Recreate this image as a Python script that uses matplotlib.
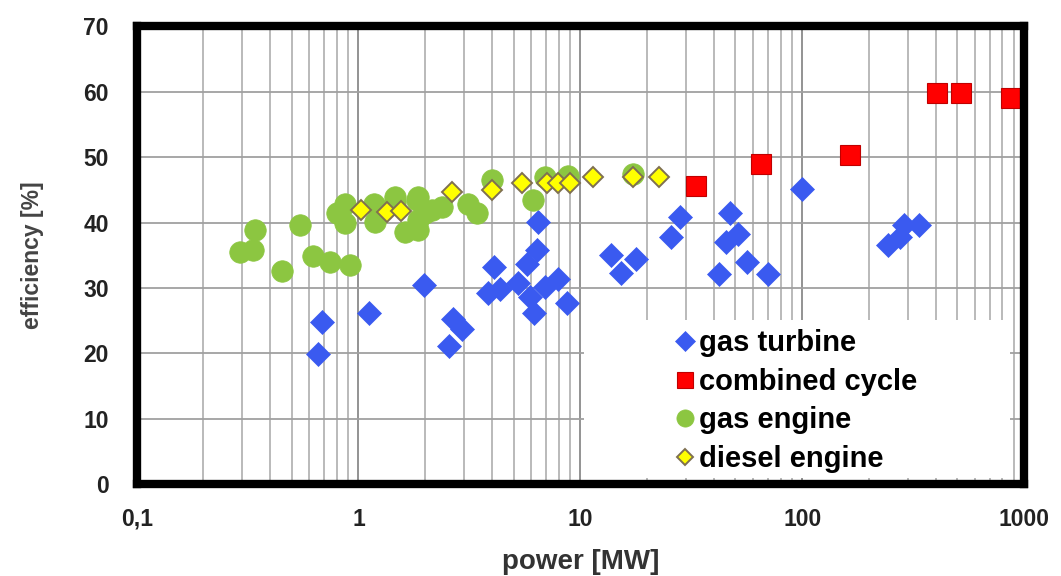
import numpy as np
import matplotlib.pyplot as plt
from matplotlib.patches import Rectangle
from matplotlib.ticker import FixedLocator, LogLocator, NullFormatter

plt.rcParams['font.family'] = ['Liberation Sans', 'DejaVu Sans']

# power [MW] / efficiency [%] per technology
gt_power = [0.656, 0.684, 1.11, 1.98, 2.57, 2.68, 2.94, 3.85, 4.08, 4.35, 5.26, 5.73,
            5.93, 6.21, 6.36, 6.47, 6.93, 7.96, 8.68, 13.8, 15.2, 17.9, 25.6, 28.1,
            42.3, 45.3, 47.5, 51.5, 56.5, 70.5, 100, 244, 275, 288, 337]
gt_eff = [19.9, 24.8, 26.2, 30.5, 21.1, 25.2, 23.7, 29.2, 33.2, 29.9, 30.7, 33.7,
          28.6, 26.1, 35.8, 40.1, 30.2, 31.4, 27.7, 35.1, 32.3, 34.4, 37.8, 40.9,
          32.2, 37.0, 41.5, 38.3, 34.0, 32.2, 45.1, 36.5, 37.8, 39.7, 39.6]

cc_power = [33.4, 65, 165, 405, 522, 871]
cc_eff = [45.6, 48.9, 50.3, 59.9, 59.8, 59.0]

ge_power = [0.293, 0.333, 0.342, 0.452, 0.545, 0.621, 0.745, 0.916, 0.799, 0.871,
            0.871, 1.17, 1.19, 1.46, 1.62, 1.83, 1.86, 2.0, 1.46, 1.86, 1.86, 2.14,
            2.38, 3.13, 3.41, 3.98, 6.14, 6.93, 8.83, 17.3]
ge_eff = [35.5, 35.8, 38.8, 32.6, 39.6, 34.9, 34.0, 33.5, 41.4, 42.9,
          39.9, 42.9, 40.1, 43.2, 38.6, 43.4, 38.8, 41.4, 43.9, 43.9, 40.4, 41.9,
          42.4, 42.9, 41.4, 46.5, 43.4, 47.0, 47.2, 47.5]

de_power = [1.03, 1.34, 1.56, 2.63, 3.98, 5.44, 7.05, 7.96, 8.98, 11.4, 17.3, 22.6]
de_eff = [41.9, 41.6, 41.7, 44.7, 45.0, 46.0, 46.0, 46.0, 46.0, 46.9, 47.0, 47.0]

x_ticks = [0.1, 1, 10, 100, 1000]
x_ticklabels = ['0,1', '1', '10', '100', '1000']
y_ticks = [0, 10, 20, 30, 40, 50, 60, 70]

fig = plt.figure(figsize=(10.61, 5.76), dpi=100)
ax = fig.add_axes([0.1288, 0.1597, 0.8363, 0.7943])

ax.plot(gt_power, gt_eff, 'D', ms=12.5, color='#3a5af0', mec='#3a5af0', mew=0.5,
        ls='none', label='gas turbine', zorder=3)
ax.plot(cc_power, cc_eff, 's', ms=14, color='#ff0000', mec='#c00000', mew=0.8,
        ls='none', label='combined cycle', zorder=3)
ax.plot(ge_power, ge_eff, 'o', ms=15.5, color='#8cc641', mec='#8cc641', mew=0.5,
        ls='none', label='gas engine', zorder=3)
ax.plot(de_power, de_eff, 'D', ms=10, color='#ffff00', mec='#7f7050', mew=1.4,
        ls='none', label='diesel engine', zorder=4)

ax.set_xscale('log')
ax.set_xlim(0.1, 1000)
ax.set_ylim(0, 70)
ax.xaxis.set_major_locator(FixedLocator(x_ticks))
ax.set_xticklabels(x_ticklabels)
ax.xaxis.set_minor_locator(LogLocator(base=10, subs=np.arange(2, 10)))
ax.xaxis.set_minor_formatter(NullFormatter())
ax.set_yticks(y_ticks)

ax.grid(which='major', axis='x', color='#8a8a8a', lw=1.3, zorder=0)
ax.grid(which='minor', axis='x', color='#b4b4b4', lw=1.3, zorder=0)
ax.grid(which='major', axis='y', color='#a0a0a0', lw=1.3, zorder=0)
ax.set_axisbelow(True)

ax.tick_params(which='both', length=0)
ax.tick_params(axis='y', pad=20, labelsize=16.5)
ax.tick_params(axis='x', pad=17, labelsize=16.5)
for lab in ax.get_xticklabels() + ax.get_yticklabels():
    lab.set_fontweight('bold')
    lab.set_color('#222222')

for sp in ax.spines.values():
    sp.set_linewidth(6)
    sp.set_color('black')
    sp.set_capstyle('projecting')
    sp.set_zorder(6)

ax.set_xlabel('power [MW]', fontsize=20, fontweight='bold', color='#333333', labelpad=13)
ax.set_ylabel('efficiency [%]', fontsize=16.5, fontweight='bold', color='#444444', labelpad=28)

# white area behind the legend hides the grid
ax.add_patch(Rectangle((0.504, 0.013), 0.48, 0.345, transform=ax.transAxes,
                       facecolor='white', edgecolor='none', zorder=2))

leg = ax.legend(loc='upper left', bbox_to_anchor=(0.593, 0.37), frameon=False,
                prop={'weight': 'bold', 'size': 21},
                handlelength=0.55, handletextpad=0.2, labelspacing=0.36,
                borderpad=0, markerscale=0.8)
leg.set_zorder(5)

fig.savefig('out.png', dpi=100)
